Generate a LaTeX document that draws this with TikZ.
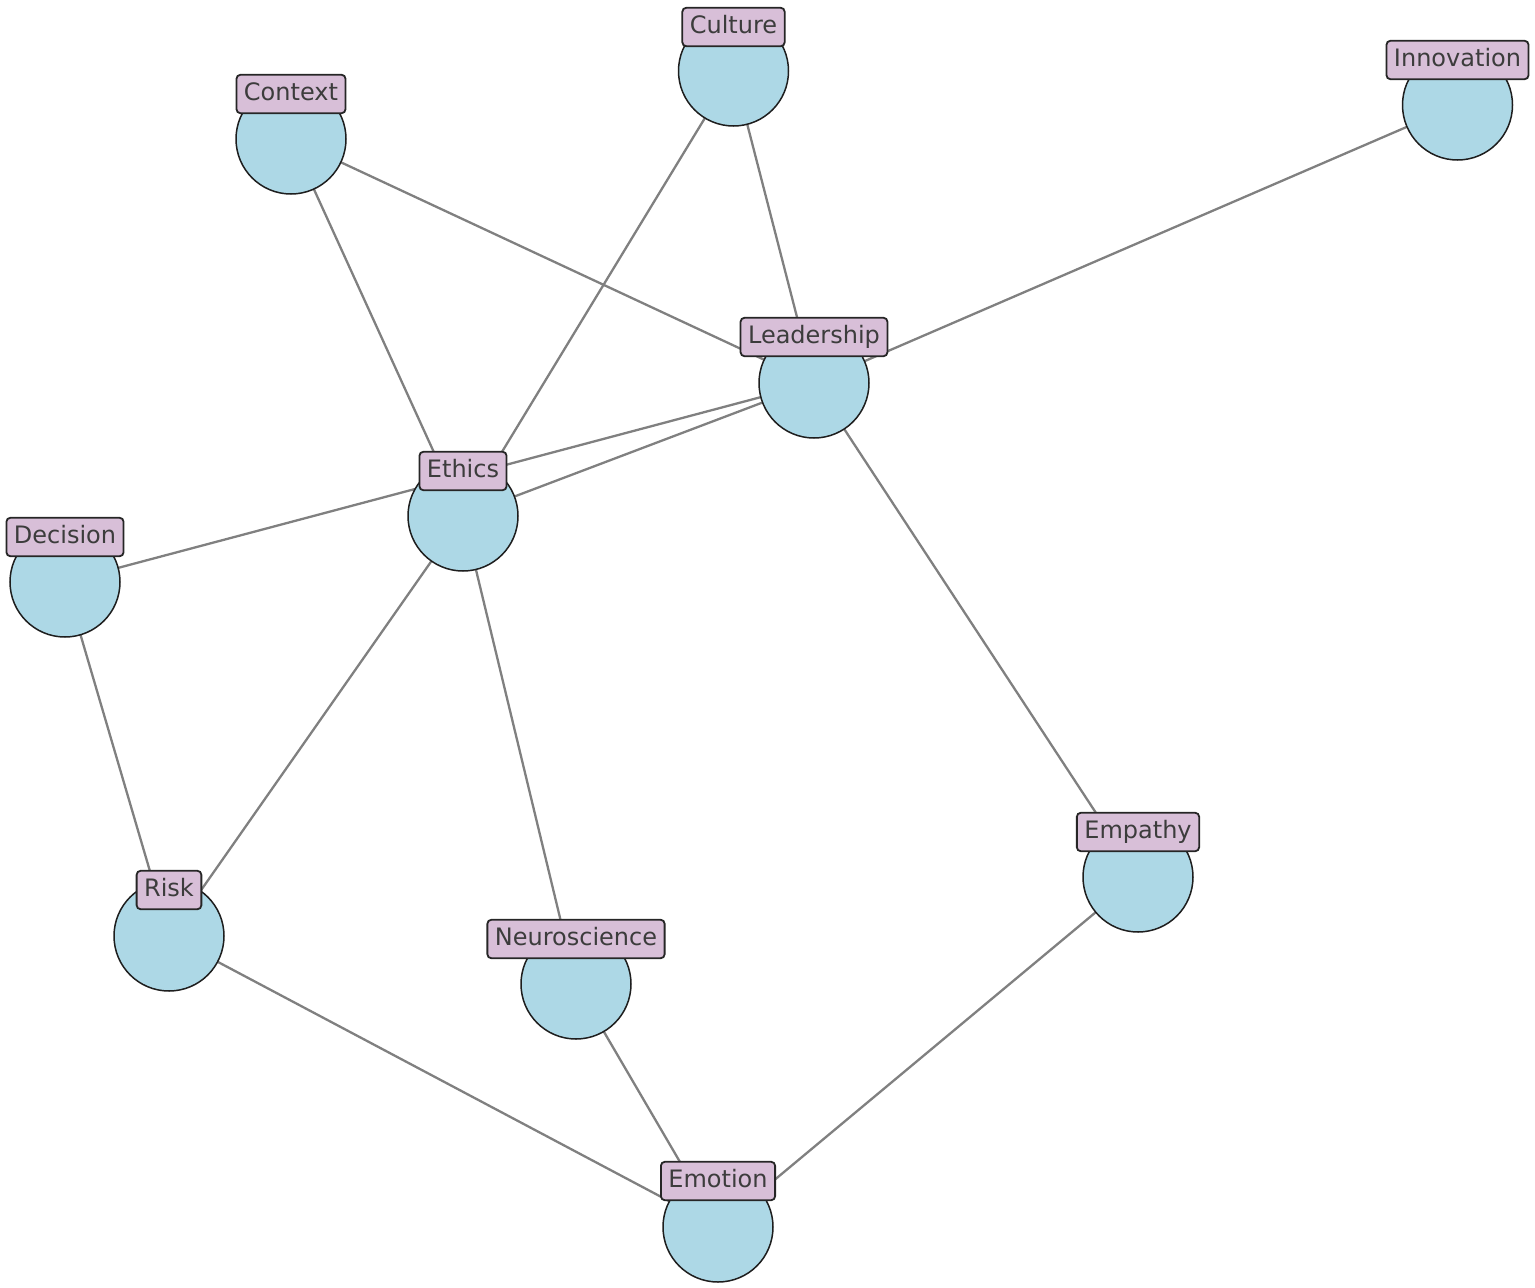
\documentclass[tikz,border=0pt]{standalone}
\usepackage{fontspec}
\setmainfont{DejaVu Sans}
\pgfdeclarelayer{background}
\pgfsetlayers{background,main}
\definecolor{nodeblue}{HTML}{ADD8E6}
\definecolor{labelpink}{HTML}{D8BFD8}
\definecolor{edgegray}{HTML}{808080}
\definecolor{txtgray}{HTML}{3C3C3C}
\tikzset{
  concept/.style={circle, draw={rgb,255:red,30;green,30;blue,30}, line width=1.5pt, fill=nodeblue, minimum size=110pt, inner sep=0pt},
  tag/.style={draw=black!85, line width=1.8pt, fill=labelpink, rounded corners=4pt, text=txtgray,
    font=\fontsize{24}{29}\selectfont, inner xsep=7.5pt, inner ysep=8pt, text height=17.5pt, text depth=5pt},
  link/.style={draw=edgegray, line width=2.3pt}
}
\begin{document}
\begin{tikzpicture}[x=1pt,y=-1pt]
\useasboundingbox (0,0) rectangle (1535,1288);
\node[concept] (culture) at (733.5,71) {};
\node[concept] (innovation) at (1457.5,105) {};
\node[concept] (context) at (291,139) {};
\node[concept] (leadership) at (814,383) {};
\node[concept] (ethics) at (463,516) {};
\node[concept] (decision) at (65,582) {};
\node[concept] (empathy) at (1138,877) {};
\node[concept] (risk) at (169,936) {};
\node[concept] (neuro) at (576,984) {};
\node[concept] (emotion) at (718,1227) {};
\begin{pgfonlayer}{background}
\draw[link] (context.center) -- (ethics.center);
\draw[link] (context.center) -- (leadership.center);
\draw[link] (culture.center) -- (ethics.center);
\draw[link] (culture.center) -- (leadership.center);
\draw[link] (innovation.center) -- (leadership.center);
\draw[link] (leadership.center) -- (ethics.center);
\draw[link] (leadership.center) -- (decision.center);
\draw[link] (leadership.center) -- (empathy.center);
\draw[link] (ethics.center) -- (risk.center);
\draw[link] (ethics.center) -- (neuro.center);
\draw[link] (decision.center) -- (risk.center);
\draw[link] (risk.center) -- (emotion.center);
\draw[link] (neuro.center) -- (emotion.center);
\draw[link] (empathy.center) -- (emotion.center);
\end{pgfonlayer}
\node[tag] (lculture) at ([yshift=44pt]culture.center) {Culture};
\node[tag] (linnovation) at ([yshift=45pt]innovation.center) {Innovation};
\node[tag] (lcontext) at ([yshift=45pt]context.center) {Context};
\node[tag] (lleadership) at ([yshift=46pt]leadership.center) {Leadership};
\node[tag] (lethics) at ([yshift=45pt]ethics.center) {Ethics};
\node[tag] (ldecision) at ([yshift=45pt]decision.center) {Decision};
\node[tag] (lempathy) at ([yshift=45pt]empathy.center) {Empathy};
\node[tag] (lrisk) at ([yshift=46pt]risk.center) {Risk};
\node[tag] (lneuro) at ([yshift=45pt]neuro.center) {Neuroscience};
\node[tag] (lemotion) at ([yshift=46pt]emotion.center) {Emotion};
\end{tikzpicture}
\end{document}
